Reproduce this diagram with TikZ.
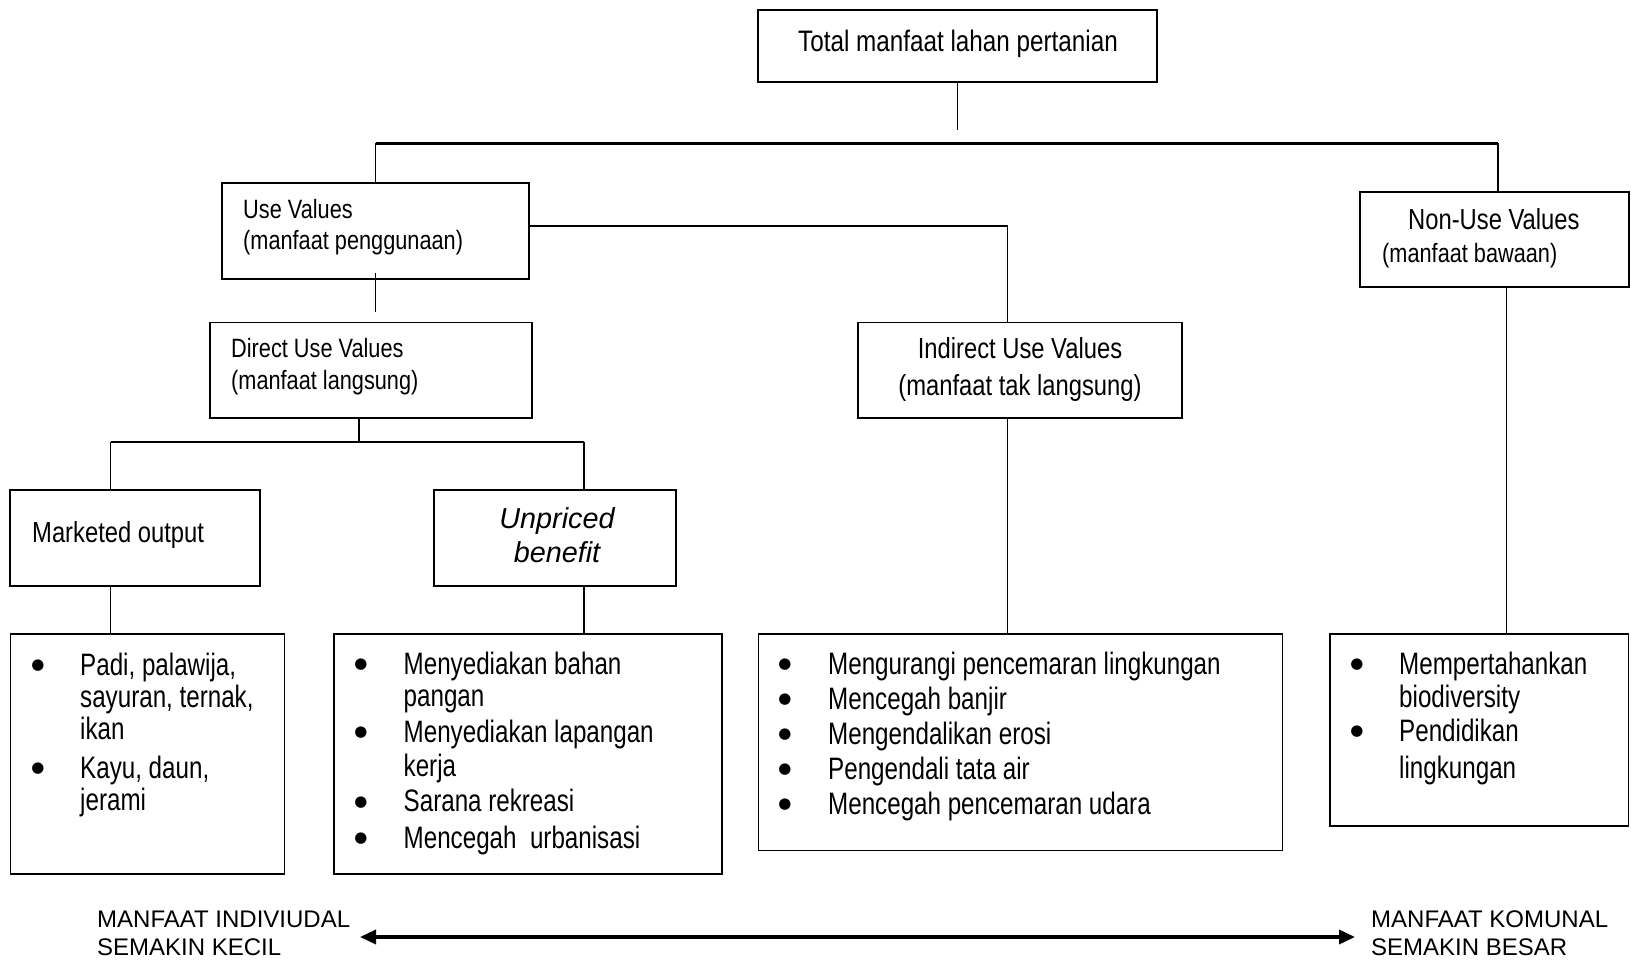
\documentclass[tikz,border=0pt]{standalone}
\usepackage{fontspec}
\setmainfont{Liberation Sans}
\newfontfamily\nrw[FakeStretch=0.82]{Liberation Sans}
\newfontfamily\nrwb[FakeStretch=0.78]{Liberation Sans}
\newfontfamily\dejav{DejaVu Sans}
\usetikzlibrary{arrows.meta}
\begin{document}
\begin{tikzpicture}[x=1pt,y=-1pt,
  box/.style={draw, line width=1.8pt, inner sep=0pt},
  conn/.style={line width=1.4pt},
  bar/.style={line width=3pt},
  ttlA/.style={anchor=base west, inner sep=0pt, font=\nrw\fontsize{29}{31}\selectfont},
  ttlB/.style={anchor=base west, inner sep=0pt, font=\nrw\fontsize{26.5}{30}\selectfont},
  ttlC/.style={anchor=base, inner sep=0pt, font=\nrw\fontsize{29}{31}\selectfont},
  ttlT/.style={anchor=base, inner sep=0pt, font=\nrw\fontsize{29.6}{31}\selectfont},
  itl/.style={anchor=base, inner sep=0pt, font=\fontsize{28.8}{31}\selectfont\itshape},
  btxt/.style={anchor=base west, inner sep=0pt, font=\nrwb\fontsize{31}{34}\selectfont},
  bul/.style={anchor=base, inner sep=0pt, yshift=5.5pt, font=\dejav\fontsize{15}{17}\selectfont},
  lbl/.style={anchor=base west, inner sep=0pt, font=\fontsize{24}{29}\selectfont},
  arr/.style={line width=3.5pt, {Triangle[length=16pt,width=14pt]}-{Triangle[length=16pt,width=14pt]}}
]
\useasboundingbox (0,0) rectangle (1631,960);

% boxes
\node[box, minimum width=399pt, minimum height=72pt] (total) at (957.5,46) {};
\node[box, minimum width=307pt, minimum height=96pt] (use) at (375.5,231) {};
\node[box, minimum width=269pt, minimum height=95.5pt] (nonuse) at (1494.5,239.5) {};
\node[box, minimum width=322pt, minimum height=95.5pt] (direct) at (371,370.25) {};
\node[box, minimum width=324pt, minimum height=95.5pt] (indirect) at (1020,370.25) {};
\node[box, minimum width=250pt, minimum height=96pt] (market) at (135,538) {};
\node[box, minimum width=242pt, minimum height=96pt] (unpriced) at (555,538) {};
\node[box, minimum width=274pt, minimum height=240pt] (b1) at (147.5,754) {};
\node[box, minimum width=388pt, minimum height=240pt] (b2) at (528,754) {};
\node[box, minimum width=524pt, minimum height=216.5pt] (b3) at (1020.5,742.25) {};
\node[box, minimum width=298.5pt, minimum height=192pt] (b4) at (1479.25,730) {};

% coordinates for connectors
\coordinate (tEnd) at (957.5,130);
\coordinate (hL) at (375.5,143.5);
\coordinate (hR) at (1498,143.5);
\coordinate (dTop) at (375.5,312);
\coordinate (h2L) at (110.5,442);
\coordinate (h2R) at (584,442);
\coordinate (cI) at (1007.5,226);
\coordinate (cN) at (1506.5,300);

% connectors
\draw[conn] (total.south) -- (tEnd);
\draw[bar] (hL) -- (hR);
\draw[conn] (hL) -- (use.north);
\draw[conn] (hR) -- (hR |- nonuse.north);
\draw[conn] (use.east |- cI) -| (cI |- indirect.north);
\draw[conn] ([yshift=7pt]use.south) -- (dTop);
\draw[conn] ([xshift=-12pt]direct.south) -- ([xshift=-12pt]direct.south |- h2L);
\draw[conn] (h2L) -- (h2R);
\draw[conn] (h2L) -- (h2L |- market.north);
\draw[conn] (h2R) -- (h2R |- unpriced.north);
\draw[conn] (market.south -| h2L) -- (b1.north -| h2L);
\draw[conn] (unpriced.south -| h2R) -- (b2.north -| h2R);
\draw[conn] (indirect.south -| cI) -- (b3.north -| cI);
\draw[conn] (nonuse.south -| cN) -- (b4.north -| cN);

% titles
\node[ttlT] (tTotal) at (958,52) {Total manfaat lahan pertanian};
\node[ttlB] (tUse1) at (243,219) {Use Values};
\node[ttlB] (tUse2) at (243,250) {(manfaat penggunaan)};
\node[ttlA] (tNon1) at (1408,229.5) {Non-Use Values};
\node[ttlB] (tNon2) at (1382,262) {(manfaat bawaan)};
\node[ttlB] (tDir1) at (231,357.5) {Direct Use Values};
\node[ttlB] (tDir2) at (231,389) {(manfaat langsung)};
\node[ttlC] (tInd1) at (1020,358.5) {Indirect Use Values};
\node[ttlC] (tInd2) at (1020,395) {(manfaat tak langsung)};
\node[ttlA] (tMkt) at (32,542) {Marketed output};
\node[itl] (tUnp1) at (557,528) {Unpriced};
\node[itl] (tUnp2) at (557,562) {benefit};

% box 1
\node[bul] (b1u1) at (38,675) {●};
\node[btxt] (b1l1) at (80,675) {Padi, palawija,};
\node[btxt] (b1l2) at (80,707) {sayuran, ternak,};
\node[btxt] (b1l3) at (80,739) {ikan};
\node[bul] (b1u2) at (38,778) {●};
\node[btxt] (b1l4) at (80,778) {Kayu, daun,};
\node[btxt] (b1l5) at (80,810) {jerami};

% box 2
\node[bul] (b2u1) at (361,674) {●};
\node[btxt] (b2l1) at (403.5,674) {Menyediakan bahan};
\node[btxt] (b2l2) at (403.5,706) {pangan};
\node[bul] (b2u2) at (361,742) {●};
\node[btxt] (b2l3) at (403.5,742) {Menyediakan lapangan};
\node[btxt] (b2l4) at (403.5,776) {kerja};
\node[bul] (b2u3) at (361,811.5) {●};
\node[btxt] (b2l5) at (403.5,811.5) {Sarana rekreasi};
\node[bul] (b2u4) at (361,848) {●};
\node[btxt] (b2l6) at (403.5,848) {Mencegah\ \ urbanisasi};

% box 3
\node[bul] (b3u1) at (785,674) {●};
\node[btxt] (b3l1) at (828,674) {Mengurangi pencemaran lingkungan};
\node[bul] (b3u2) at (785,709) {●};
\node[btxt] (b3l2) at (828,709) {Mencegah banjir};
\node[bul] (b3u3) at (785,744) {●};
\node[btxt] (b3l3) at (828,744) {Mengendalikan erosi};
\node[bul] (b3u4) at (785,779) {●};
\node[btxt] (b3l4) at (828,779) {Pengendali tata air};
\node[bul] (b3u5) at (785,814) {●};
\node[btxt] (b3l5) at (828,814) {Mencegah pencemaran udara};

% box 4
\node[bul] (b4u1) at (1357,674) {●};
\node[btxt] (b4l1) at (1399,674) {Mempertahankan};
\node[btxt] (b4l2) at (1399,707) {biodiversity};
\node[bul] (b4u2) at (1357,741) {●};
\node[btxt] (b4l3) at (1399,741) {Pendidikan};
\node[btxt] (b4l4) at (1399,778) {lingkungan};

% bottom arrow and labels
\coordinate (aL) at (360,937);
\coordinate (aR) at (1355,937);
\draw[arr] (aL) -- (aR);
\node[lbl] (lL1) at (97,927) {MANFAAT INDIVIUDAL};
\node[lbl] (lL2) at (97,955) {SEMAKIN KECIL};
\node[lbl] (lR1) at (1371,927) {MANFAAT KOMUNAL};
\node[lbl] (lR2) at (1371,955) {SEMAKIN BESAR};
\end{tikzpicture}
\end{document}
